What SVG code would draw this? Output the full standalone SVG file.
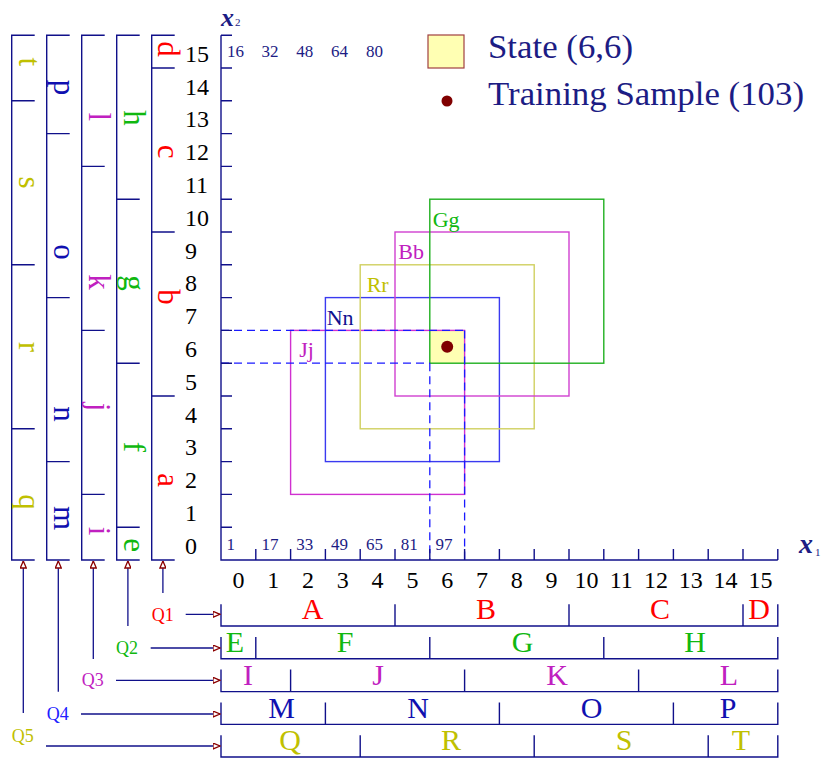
<svg xmlns="http://www.w3.org/2000/svg" width="826" height="758" viewBox="0 0 826 758">
<style>
text{font-family:"Liberation Serif","Times New Roman",serif}
.ax{fill:none;stroke:#10108a;stroke-width:1.4}
.num{font-size:24px;fill:#000}
.sm{font-size:17px;fill:#1c1c84}
.rl{font-size:30px;text-anchor:middle}
.cl{font-size:31px;text-anchor:middle}
.ql{font-size:18px}
.bl{font-size:22px}
.c1{fill:#ff0000}.c2{fill:#10b810}.c3{fill:#c020c0}.c4{fill:#1010b0}.c5{fill:#c0c000}
.tile{fill:none;stroke-width:1.4}
.dash{fill:none;stroke:#1a1aff;stroke-width:1.3;stroke-dasharray:8 5}
.conn{fill:none;stroke:#10108a;stroke-width:1.3;marker-end:url(#ah)}
.leg{fill:#1c1c84;font-size:33px}
</style>
<defs>
<marker id="ah" viewBox="0 0 8 7" refX="7.5" refY="3.5" markerWidth="8" markerHeight="7" markerUnits="userSpaceOnUse" orient="auto">
<path d="M0.5,0.5 L7.5,3.5 L0.5,6.5 Z" fill="#fff" stroke="#8b0000" stroke-width="1.3"/>
</marker>
</defs>

<!-- state cell fill -->
<g id="state-cell"><rect x="429.8" y="330.4" width="34.8" height="32.8" fill="#ffffb3"/></g>

<!-- tiles -->
<g id="tile-Jj"><rect class="tile" x="290.6" y="330.4" width="174" height="164" stroke="#d030d0"/><text class="bl c3" x="299.3" y="357">Jj</text></g>
<g id="tile-Nn"><rect class="tile" x="325.4" y="297.6" width="174" height="164" stroke="#3a3af0"/><text class="bl" fill="#101090" x="326.7" y="324.5">Nn</text></g>
<g id="tile-Rr"><rect class="tile" x="360.2" y="264.8" width="174" height="164" stroke="#d0d060"/><text class="bl c5" x="366.7" y="291.5">Rr</text></g>
<g id="tile-Bb"><rect class="tile" x="395" y="232" width="174" height="164" stroke="#d040d0"/><text class="bl c3" x="398.3" y="258.5">Bb</text></g>
<g id="tile-Gg"><rect class="tile" x="429.8" y="199.2" width="174" height="164" stroke="#20b020"/><text class="bl c2" x="432.7" y="227">Gg</text></g>

<!-- dashed guides -->
<g id="guides">
<path class="dash" d="M221,330.4 H464.6 M221,363.2 H429.8 M429.8,363.2 V560 M464.6,330.4 V560"/>
</g>
<g id="sample"><circle cx="447.2" cy="346.8" r="6" fill="#800000"/></g>

<!-- axes -->
<g id="axes">
<path class="ax" d="M221,35.2 V560 H777.8
M221,35.2 h11 M221,68 h11 M221,100.8 h11 M221,133.6 h11 M221,166.4 h11 M221,199.2 h11 M221,232 h11 M221,264.8 h11 M221,297.6 h11 M221,330.4 h11 M221,363.2 h11 M221,396 h11 M221,428.8 h11 M221,461.6 h11 M221,494.4 h11 M221,527.2 h11
M255.8,560 v-11 M290.6,560 v-11 M325.4,560 v-11 M360.2,560 v-11 M395,560 v-11 M429.8,560 v-11 M464.6,560 v-11 M499.4,560 v-11 M534.2,560 v-11 M569,560 v-11 M603.8,560 v-11 M638.6,560 v-11 M673.4,560 v-11 M708.2,560 v-11 M743,560 v-11 M777.8,560 v-11"/>
<g class="num">
<text x="185" y="553.7">0</text><text x="185" y="520.9">1</text><text x="185" y="488.1">2</text><text x="185" y="455.3">3</text>
<text x="185" y="422.5">4</text><text x="185" y="389.7">5</text><text x="185" y="356.9">6</text><text x="185" y="324.1">7</text>
<text x="185" y="291.3">8</text><text x="185" y="258.5">9</text><text x="185" y="225.7">10</text><text x="185" y="192.9">11</text>
<text x="185" y="160.1">12</text><text x="185" y="127.3">13</text><text x="185" y="94.5">14</text><text x="185" y="61.7">15</text>
</g>
<g class="num" text-anchor="middle">
<text x="238.4" y="588">0</text><text x="273.2" y="588">1</text><text x="308" y="588">2</text><text x="342.8" y="588">3</text>
<text x="377.6" y="588">4</text><text x="412.4" y="588">5</text><text x="447.2" y="588">6</text><text x="482" y="588">7</text>
<text x="516.8" y="588">8</text><text x="551.6" y="588">9</text><text x="586.4" y="588">10</text><text x="621.2" y="588">11</text>
<text x="656" y="588">12</text><text x="690.8" y="588">13</text><text x="725.6" y="588">14</text><text x="760.4" y="588">15</text>
</g>
<g class="sm">
<text x="226.5" y="550">1</text><text x="261.5" y="550">17</text><text x="296.3" y="550">33</text><text x="331.1" y="550">49</text>
<text x="365.9" y="550">65</text><text x="400.7" y="550">81</text><text x="435.5" y="550">97</text>
<text x="227" y="57">16</text><text x="261.5" y="57">32</text><text x="296.3" y="57">48</text><text x="331.1" y="57">64</text><text x="365.9" y="57">80</text>
</g>
<text x="221" y="26" font-size="26" font-style="italic" font-weight="bold" fill="#1c1c84">x</text>
<text x="235" y="26" font-size="11" fill="#1c1c84">2</text>
<text x="799" y="553" font-size="28" font-style="italic" font-weight="bold" fill="#1c1c84">x</text>
<text x="815" y="556" font-size="11" fill="#1c1c84">1</text>
</g>

<!-- legend -->
<g id="legend">
<rect x="428" y="35" width="36" height="33" fill="#ffffb3" stroke="#a04040" stroke-width="1.2"/>
<text class="leg" x="488" y="58" textLength="145" lengthAdjust="spacingAndGlyphs">State (6,6)</text>
<circle cx="447" cy="101" r="5.5" fill="#800000"/>
<text class="leg" x="488" y="105" textLength="316" lengthAdjust="spacingAndGlyphs">Training Sample (103)</text>
</g>

<!-- rows (x1 tilings) -->
<g id="row-Q1">
<path class="ax" d="M221,604.3 V626 H777.8 V604.3 M395,604.3 V626 M569,604.3 V626 M743,604.3 V626"/>
<g class="rl c1"><text x="312.5" y="618.5">A</text><text x="486" y="618.5">B</text><text x="660" y="618.5">C</text><text x="759" y="618.5">D</text></g>
</g>
<g id="row-Q2">
<path class="ax" d="M221,637 V658.8 H777.8 V637 M255.8,637 V658.8 M429.8,637 V658.8 M603.8,637 V658.8"/>
<g class="rl c2"><text x="235" y="652">E</text><text x="345" y="652">F</text><text x="522.5" y="652">G</text><text x="695" y="652">H</text></g>
</g>
<g id="row-Q3">
<path class="ax" d="M221,669.6 V691.6 H777.8 V669.6 M290.6,669.6 V691.6 M464.6,669.6 V691.6 M638.6,669.6 V691.6"/>
<g class="rl c3"><text x="248" y="685">I</text><text x="378" y="685">J</text><text x="557" y="685">K</text><text x="729" y="685">L</text></g>
</g>
<g id="row-Q4">
<path class="ax" d="M221,702.4 V724.4 H777.8 V702.4 M325.4,702.4 V724.4 M499.4,702.4 V724.4 M673.4,702.4 V724.4"/>
<g class="rl c4"><text x="281.7" y="717.5">M</text><text x="418" y="717.5">N</text><text x="591.7" y="717.5">O</text><text x="728" y="717.5">P</text></g>
</g>
<g id="row-Q5">
<path class="ax" d="M221,735.2 V757 H777.8 V735.2 M360.2,735.2 V757 M534.2,735.2 V757 M708.2,735.2 V757"/>
<g class="rl c5"><text x="290" y="750">Q</text><text x="451" y="750">R</text><text x="624" y="750">S</text><text x="741" y="750">T</text></g>
</g>

<!-- columns (x2 tilings) -->
<g id="col-Q5">
<path class="ax" d="M34.7,35.2 H11.7 V560 H34.7 M11.7,428.8 H34.7 M11.7,264.8 H34.7 M11.7,100.8 H34.7"/>
<g class="cl c5">
<text transform="translate(18.5,61.7) rotate(90)">t</text><text transform="translate(18.5,182.5) rotate(90)">s</text>
<text transform="translate(18.5,347) rotate(90)">r</text><text transform="translate(18.5,502) rotate(90)">q</text>
</g>
</g>
<g id="col-Q4">
<path class="ax" d="M69.7,35.2 H46.7 V560 H69.7 M46.7,461.6 H69.7 M46.7,297.6 H69.7 M46.7,133.6 H69.7"/>
<g class="cl c4">
<text transform="translate(53.5,87.5) rotate(90)">p</text><text transform="translate(53.5,252) rotate(90)">o</text>
<text transform="translate(53.5,414) rotate(90)">n</text><text transform="translate(53.5,518) rotate(90)">m</text>
</g>
</g>
<g id="col-Q3">
<path class="ax" d="M104.7,35.2 H81.7 V560 H104.7 M81.7,494.4 H104.7 M81.7,330.4 H104.7 M81.7,166.4 H104.7"/>
<g class="cl c3">
<text transform="translate(88.5,116.7) rotate(90)">l</text><text transform="translate(88.5,282) rotate(90)">k</text>
<text transform="translate(88.5,407) rotate(90)">j</text><text transform="translate(88.5,531) rotate(90)">i</text>
</g>
</g>
<g id="col-Q2">
<path class="ax" d="M139.7,35.2 H116.7 V560 H139.7 M116.7,527.2 H139.7 M116.7,363.2 H139.7 M116.7,199.2 H139.7"/>
<g class="cl c2">
<text transform="translate(123.5,118) rotate(90)">h</text><text transform="translate(123.5,283) rotate(90)">g</text>
<text transform="translate(123.5,447) rotate(90)">f</text><text transform="translate(123.5,545) rotate(90)">e</text>
</g>
</g>
<g id="col-Q1">
<path class="ax" d="M174.7,35.2 H151.7 V560 H174.7 M151.7,396 H174.7 M151.7,232 H174.7 M151.7,68 H174.7"/>
<g class="cl c1">
<text transform="translate(157.5,49) rotate(90)">d</text><text transform="translate(157.5,151.7) rotate(90)">c</text>
<text transform="translate(157.5,297) rotate(90)">b</text><text transform="translate(157.5,480) rotate(90)">a</text>
</g>
</g>

<!-- query labels -->
<g id="labels-Q">
<text class="ql c1" x="151.7" y="621">Q1</text>
<text class="ql c2" x="116" y="654">Q2</text>
<text class="ql c3" x="81.7" y="686">Q3</text>
<text class="ql" fill="#2020ff" x="46.7" y="720">Q4</text>
<text class="ql c5" x="11.7" y="742">Q5</text>
</g>

<!-- connectors -->
<g id="connectors">
<path class="conn" d="M185.7,614.3 H220"/>
<path class="conn" d="M150.7,648 H220"/>
<path class="conn" d="M116,680.3 H220"/>
<path class="conn" d="M81,714 H220"/>
<path class="conn" d="M46,746 H220"/>
<path class="conn" d="M162.9,593 V561"/>
<path class="conn" d="M127.9,626 V561"/>
<path class="conn" d="M93.3,659 V561"/>
<path class="conn" d="M58.3,691.7 V561"/>
<path class="conn" d="M23.3,713 V561"/>
</g>
</svg>
